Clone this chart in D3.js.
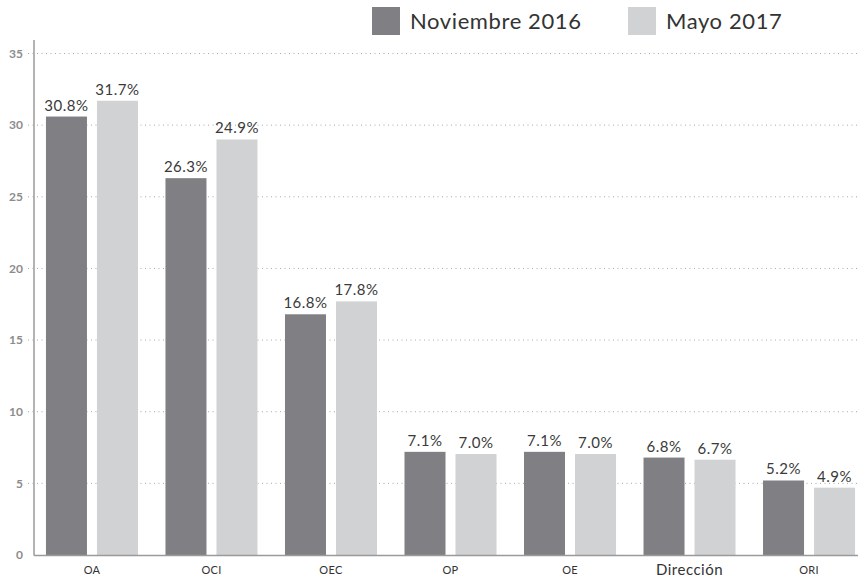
<!DOCTYPE html>
<html>
<head>
<meta charset="utf-8">
<script src="https://cdn.jsdelivr.net/npm/d3@7"></script>
<style>
  html, body { margin: 0; padding: 0; background: #fff; }
  svg { display: block; }
</style>
</head>
<body>
<svg id="chart" width="858" height="578"></svg>
<script>
const categories = ["OA", "OCI", "OEC", "OP", "OE", "Dirección", "ORI"];
const seriesNames = ["Noviembre 2016", "Mayo 2017"];
const nov2016 = [30.6, 26.3, 16.8, 7.2, 7.2, 6.8, 5.2];
const may2017 = [31.7, 29.0, 17.7, 7.05, 7.05, 6.65, 4.7];
const nov2016Labels = ["30.8%", "26.3%", "16.8%", "7.1%", "7.1%", "6.8%", "5.2%"];
const may2017Labels = ["31.7%", "24.9%", "17.8%", "7.0%", "7.0%", "6.7%", "4.9%"];
const yTicks = [0, 5, 10, 15, 20, 25, 30, 35];
const colors = ["#808084", "#d1d2d4"];

const svg = d3.select("#chart");
const font = "Lato, 'Open Sans', sans-serif";

const y = d3.scaleLinear().domain([0, 35]).range([555, 53.5]);
const x0 = d3.scaleBand().domain(categories).range([34, 867]).paddingInner(0.23).paddingOuter(0.1);
const x1 = d3.scaleBand().domain(seriesNames).range([0, x0.bandwidth()]).paddingInner(0.196);

// gridlines
svg.append("g").selectAll("line").data(yTicks.filter(d => d > 0)).join("line")
  .attr("x1", 28).attr("x2", 858)
  .attr("y1", d => y(d)).attr("y2", d => y(d))
  .attr("stroke", "#a8a8a8").attr("stroke-width", 1)
  .attr("stroke-dasharray", "1,3.5");

// y tick labels
svg.append("g").selectAll("text").data(yTicks).join("text")
  .attr("x", 23).attr("y", d => y(d)).attr("dy", "0.36em")
  .attr("text-anchor", "end")
  .attr("font-family", font).attr("font-weight", "bold").attr("font-size", 12)
  .attr("fill", "#8c8c8c")
  .text(d => d);

const data = categories.map((c, i) => ({
  cat: c,
  vals: [
    { s: seriesNames[0], v: nov2016[i], label: nov2016Labels[i], color: colors[0] },
    { s: seriesNames[1], v: may2017[i], label: may2017Labels[i], color: colors[1] }
  ]
}));

const groups = svg.append("g").selectAll("g").data(data).join("g")
  .attr("transform", d => `translate(${x0(d.cat)},0)`);

groups.selectAll("rect").data(d => d.vals).join("rect")
  .attr("x", d => x1(d.s)).attr("width", x1.bandwidth())
  .attr("y", d => y(d.v)).attr("height", d => y(0) - y(d.v))
  .attr("fill", d => d.color);

groups.selectAll("text.val").data(d => d.vals).join("text")
  .attr("class", "val")
  .attr("x", d => x1(d.s) + x1.bandwidth() / 2)
  .attr("y", d => y(d.v) - 6)
  .attr("text-anchor", "middle")
  .attr("font-family", font).attr("font-size", 15)
  .attr("letter-spacing", 0.5)
  .attr("fill", "#3a3a3a")
  .text(d => d.label);

// category labels
svg.append("g").selectAll("text").data(categories).join("text")
  .attr("x", d => x0(d) + x0.bandwidth() / 2)
  .attr("y", d => d === "Dirección" ? 575 : 574)
  .attr("text-anchor", "middle")
  .attr("font-family", font)
  .attr("font-size", d => d === "Dirección" ? 15 : 11)
  .attr("letter-spacing", d => d === "Dirección" ? 0.5 : 0.3)
  .attr("fill", "#333")
  .text(d => d);

// axes lines
svg.append("line").attr("x1", 34).attr("x2", 34).attr("y1", 40).attr("y2", 555.5)
  .attr("stroke", "#9a9a9a").attr("stroke-width", 1.5);
svg.append("line").attr("x1", 34).attr("x2", 858).attr("y1", 555.5).attr("y2", 555.5)
  .attr("stroke", "#9a9a9a").attr("stroke-width", 1.5);

// legend
const legendPos = [{ x: 372, tx: 410 }, { x: 628, tx: 666 }];
const legend = svg.append("g").selectAll("g").data(seriesNames).join("g");
legend.append("rect")
  .attr("x", (d, i) => legendPos[i].x).attr("y", 7)
  .attr("width", 28).attr("height", 28)
  .attr("fill", (d, i) => colors[i]);
legend.append("text")
  .attr("x", (d, i) => legendPos[i].tx).attr("y", 29)
  .attr("font-family", font).attr("font-size", 22)
  .attr("letter-spacing", 0.6)
  .attr("fill", "#333")
  .text(d => d);
</script>
</body>
</html>
